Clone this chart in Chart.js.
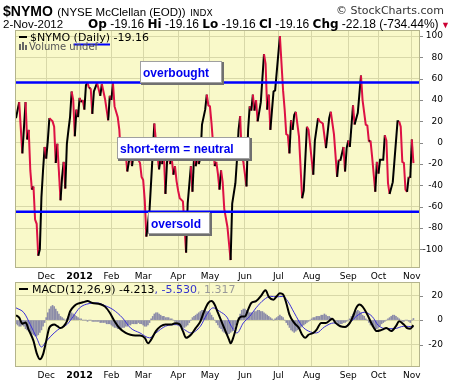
<!DOCTYPE html>
<html><head><meta charset="utf-8">
<script src="https://cdn.jsdelivr.net/npm/chart.js@4"></script>
<style>
html,body{margin:0;padding:0;background:#fff;}
#wrap{position:relative;width:460px;height:383px;overflow:hidden;font-family:"Liberation Sans",Arial,sans-serif;color:#000;}
.cv{position:absolute;left:0;top:0;width:460px;height:383px;z-index:1;}
.t{position:absolute;white-space:nowrap;line-height:1;z-index:5;}
</style></head><body>
<div id="wrap">
<div class="cv"><canvas id="c1" width="460" height="383"></canvas></div>
<div class="cv"><canvas id="c2" width="460" height="383"></canvas></div>
<div class="t" style="left:3px;top:3px;"><b style="font-size:14px">$NYMO</b> <span style="font-size:11.5px">(NYSE McClellan (EOD))</span> <span style="font-size:9px;font-family:'DejaVu Sans'">INDX</span></div>
<div class="t" style="left:336px;top:5px;font-family:'DejaVu Sans';font-size:11px;color:#333333">© StockCharts.com</div>
<div class="t" style="left:3px;top:19px;font-size:11.5px">2-Nov-2012</div>
<div class="t" style="left:88px;top:18px;font-size:12px"><b style="font-family:'DejaVu Sans';font-size:12px">Op</b> -19.16 <b style="font-family:'DejaVu Sans';font-size:12px">Hi</b> -19.16 <b style="font-family:'DejaVu Sans';font-size:12px">Lo</b> -19.16 <b style="font-family:'DejaVu Sans';font-size:12px">Cl</b> -19.16 <b style="font-family:'DejaVu Sans';font-size:12px">Chg</b> -22.18 (-734.44%)<span style="color:#cc0033;font-size:9px"> ▼</span></div>
</div>
<script>
// ---------- data ----------
const monthIdx = [19, 40, 60, 80, 102, 122, 144, 165, 186, 209, 228, 249];
const monthLabels = ['Dec', '2012', 'Feb', 'Mar', 'Apr', 'May', 'Jun', 'Jul', 'Aug', 'Sep', 'Oct', 'Nov'];
const nymoTicks = [-100, -80, -60, -40, -20, 0, 20, 40, 60, 80, 100];
const macdTicks = [-20, 0, 20];

// trading-day index (0 = 3-Nov-2011) and $NYMO value
const nymoDays = [
  0,2,4,6,7,8,9,10,11,12, 13,14,15,16,17,18,19,20,21,23, 24,25,26,28,29,30,31,32,33,34,
  35,36,37,38,39,40,41,42,43,44, 45,46,47,48,49,51,52,53,54,56, 58,59,60,61,62,64,65,66,67,68,
  69,70,71,72,73,74,76,78,79,80, 81,82,84,86,87,88,89,90,91,92, 93,94,95,96,97,98,99,100,101,102,
  103,105,107,108,110,111,112,113,114,115, 116,117,119,120,121,122,123,125,126,127,
  128,129,130,131,133,135,136,138,139,140, 141,142,143,145,146,147,148,149,150,151,
  152,154,156,157,158,159,160,161,162,163, 166,168,169,170,171,172,173,174,175,176,
  178,180,181,183,184,187,188,190,191,193, 195,197,198,200,202,203,204,206,207,208,
  209,210,212,213,215,217,218,220,221,222, 223,224,226,227,228,229,231,232,233,234,
  235,237,238,240,241,242,243,244,245,246, 247,248,249,250];
const nymoVals = [
  23,38,-10,38,3,12,-26,-44,-41,-72, -76,-106,-100,-51,-26,-4,-15,2,23,20, 15,-19,-1,-54,-32,-18,-43,-1,12,24,
  48,40,6,31,24,42,38,40,31,54, 56,51,51,27,48,56,50,44,55,41, 21,44,40,56,34,24,12,-15,-7,-16,
  -10,-27,-18,-10,-22,-10,-13,-19,-32,-35, -54,-88,-63,-10,18,2,-12,-25,-14,-20, -10,-48,-18,-12,-20,-15,-30,-22,-36,-45,
  -52,-55,-103,-57,-22,-46,-13,-22,-15,-20, -14,17,31,45,35,34,18,-22,-18,-29,
  -44,-26,-37,-62,-79,-110,-57,-38,-16,12, 25,-13,-18,-41,12,34,30,45,30,40,
  20,38,83,74,31,45,12,30,48,49, 100,49,31,8,7,-10,21,12,26,29,
  6,-52,-45,15,12,-30,2,23,20,18, -5,23,29,8,-32,-16,-17,-4,-27,-5,
  2,-4,35,17,28,63,40,17,16,1, 2,-13,-46,-18,-29,-16,-16,7,2,-38,
  -48,-37,-18,20,20,15,-18,-19,-44,-46, -32,-33,3,-19.16];
const overboughtLevel = 56.5;
const oversoldLevel = -64.6;

const macdDays = [0,2,4,6,8,11,13,15,17,19,21,24,26,28,30,32,34,37,39,42,45,48,53,56,59,62,65,69,72,75,78,81,83,85,88,91,94,98,100,103,105,107,110,113,116,118,121,123,125,127,130,134,135,137,140,142,144,146,148,151,154,156,157,159,162,164,166,168,170,172,175,178,180,182,184,187,189,192,195,199,201,204,207,210,212,214,216,218,221,224,227,230,233,236,239,241,244,246,248,250];
const macdVals = [4,2,-3,-2,-8,-17,-27,-32,-28,-17,-6,-3.5,-5,-6.5,-5,-1,7,12,13.5,14.5,15.5,14,13,11,6,-1,-6.5,-10.5,-12,-12.5,-12.5,-14.5,-19,-16,-9,-5,-3.5,-3.5,-2.5,-3.5,-9,-14.5,-12,-6.5,-1,6,14,15.5,12.5,6,-3.5,-16,-19,-13,0.5,3,3,8.5,14,15.5,19.5,23.5,24.3,19,16.7,19.5,22,21,14,4.5,-2.3,-6.5,-12,-14.5,-12,-10.5,-8,-2.3,-2.3,1,-2.3,-5,-5.6,-2.3,3,10,12.7,11,4.5,-3.7,-9,-8,-6.5,-9,-5,-1,-3.7,-6.5,-7,-4.213];
const sigDays = [0,5,9,13,16,19,24,28,32,36,40,46,51,56,61,67,72,78,84,88,94,101,106,110,116,120,124,128,133,135,139,143,147,151,156,160,164,168,171,175,180,184,189,194,200,206,210,214,219,224,228,233,238,244,250];
const sigVals = [10,6,-3.7,-14.5,-22,-17.3,-10.5,-6.4,-3.7,3,10,13.5,14,11.8,8.6,1.8,-6.4,-10.5,-14.5,-10.5,-5,-3.7,-7.8,-10.5,-5,4.5,10,7.2,1.8,-4,-10.5,-2.3,3,10,16.7,19.4,19,19.4,15.3,6,-5,-9,-10.5,-5.6,-2.3,-5.6,-2.3,3,6.4,3,-4.5,-7,-7,-5,-5.53];
// daily histogram, day 0 .. 250
const histVals = [
  -3,-4,-5,-5,-4,-5, -7,-8,-9,-10,-11,-12,-13,-13, -12,-10,-8,-5,-2, 2,6,9,11,12,11, 9,7,5,3,2,1,
  0,1,3,5,6,5,4, 3,2,1,1,0,0,0,-1,0,0,-1,-1,-1, -1,-1,-2,-2,-2,-2,-3,-3,-3,-4,
  -5,-6,-6,-7,-7,-7,-6,-6,-5,-5, -4,-4,-3,-3,-3,-3,-2,-3,-3,-4, -5,-5,-4,-2,
  1,3,5,6,6,5,4,3, 3,2,2,2,1,1,0, -1,-2,-3,-4,-5,-6,-6,-5,-4, -2,0,2,
  3,4,5,6,7,8,8,8,7,7,6,4,2, 0,-2,-4,-6,-7,-9,-10,-11,-12,-11, -10,-9,-7,-4,-1,2,
  5,8,9,9,8,7,6,6, 6,7,7,8,8,7,7,6,5,4, 3,2,1,0,1, 2,3,4,3,2,
  0,-2,-4,-6,-8,-9,-10,-9,-8,-7,-6,-5, -4,-3,-2,-1,0, 1,2,2,3,3,3, 4,4,5,4,3,3,
  2,1,0,-1,-2,-3, -3,-3,-2,-2,-1,0,1, 3,5,6,7,8,7,6,4, 3,1,0,-2,
  -4,-5,-6,-7,-7,-6,-5,-3, -2,-1,0,1,2,3,4,4,3,2, 1,0,-1,-1,0,0,-1,-2,0,1.317];

// ---------- styles ----------
const X_MIN = 0, X_MAX = 253.5;
const BG = '#f9f9c9', GRID = '#d8d8a8', FRAME = '#b4b48c';
const UP = '#000000', DOWN = '#dd1144';
const TICKFONT = {family: 'DejaVu Sans', size: 9};

const panelBg = {
  id: 'panelBg',
  beforeDraw(chart) {
    const a = chart.chartArea, c = chart.ctx;
    c.save(); c.fillStyle = BG; c.fillRect(a.left, a.top, a.right - a.left, a.bottom - a.top); c.restore();
  },
  afterDraw(chart) {
    const a = chart.chartArea, c = chart.ctx;
    c.save(); c.strokeStyle = FRAME; c.lineWidth = 1;
    c.strokeRect(a.left - 0.5, a.top - 0.5, a.right - a.left + 1, a.bottom - a.top + 1);
    const ys = chart.scales.y;
    c.strokeStyle = '#888';
    ys.ticks.forEach(t => { const y = Math.round(ys.getPixelForValue(t.value)) + 0.5; c.beginPath(); c.moveTo(a.right + 1, y); c.lineTo(a.right + 4, y); c.stroke(); });
    c.restore();
  }
};

function xScale(height) {
  return {
    type: 'linear', min: X_MIN, max: X_MAX, offset: false,
    afterBuildTicks: s => { s.ticks = monthIdx.map(v => ({value: v})); },
    afterFit: s => { s.height = height; },
    ticks: {
      autoSkip: false, maxRotation: 0, padding: 4, color: '#000',
      callback: v => monthLabels[monthIdx.indexOf(v)],
      font: ctx => (ctx.tick && monthLabels[monthIdx.indexOf(ctx.tick.value)] === '2012')
        ? {family: 'DejaVu Sans', size: 9.5, weight: 'bold'} : TICKFONT
    },
    grid: {color: GRID, drawTicks: false, offset: false},
    border: {display: false}
  };
}
function yScale(min, max, ticks) {
  return {
    position: 'right', min: min, max: max,
    afterBuildTicks: s => { s.ticks = ticks.map(v => ({value: v})); },
    afterFit: s => { s.width = 24; },
    ticks: {crossAlign: 'far', padding: 0, color: '#000', font: TICKFONT},
    grid: {color: GRID, drawTicks: false},
    border: {display: false}
  };
}

// ---------- main panel ----------
const annotations = [
  {text: 'overbought', day: 78, val: 76.9, w: 82},
  {text: 'short-term = neutral', day: 63.8, val: 5.6, w: 133},
  {text: 'oversold', day: 83.3, val: -65.3, w: 62}
];
const mainDecor = {
  id: 'mainDecor',
  afterDraw(chart) {
    const c = chart.ctx, a = chart.chartArea, xs = chart.scales.x, ys = chart.scales.y;
    c.save();
    c.fillStyle = '#000'; c.fillRect(a.left + 3, a.top + 5, 8, 2);
    c.font = '11px "DejaVu Sans"'; c.textBaseline = 'alphabetic';
    const txt = '$NYMO (Daily) -19.16';
    c.fillText(txt, a.left + 14, a.top + 9.5);
    const pre = c.measureText('$NYMO ').width, dw = c.measureText('(Daily)').width;
    c.fillStyle = '#0000ff'; c.fillRect(a.left + 14 + pre, a.top + 12.5, dw, 2);
    c.fillStyle = '#666';
    c.fillRect(a.left + 3, a.top + 13, 2, 6); c.fillRect(a.left + 6, a.top + 11, 2, 8); c.fillRect(a.left + 9, a.top + 14, 2, 5);
    c.font = '10px "DejaVu Sans"'; c.fillStyle = '#555';
    c.fillText('Volume undef', a.left + 13, a.top + 18.5);
    c.font = 'bold 12px "Liberation Sans"';
    annotations.forEach(n => {
      const x = Math.round(xs.getPixelForValue(n.day)), y = Math.round(ys.getPixelForValue(n.val));
      const h = 22;
      c.fillStyle = '#fff'; c.fillRect(x, y, n.w, h);
      c.strokeStyle = '#a0a0a0'; c.lineWidth = 1; c.strokeRect(x + 0.5, y + 0.5, n.w - 1, h - 1);
      c.fillStyle = '#707070'; c.fillRect(x + n.w, y + 1, 2, h + 1); c.fillRect(x + 1, y + h, n.w, 2);
      c.fillStyle = '#0000ee'; c.fillText(n.text, x + 3, y + 16);
    });
    c.restore();
  }
};

new Chart(document.getElementById('c1'), {
  type: 'line',
  data: {
    datasets: [
      {data: [{x: X_MIN, y: overboughtLevel}, {x: X_MAX, y: overboughtLevel}], borderColor: '#0000ff', borderWidth: 2.5, pointRadius: 0, order: 0},
      {data: [{x: X_MIN, y: oversoldLevel}, {x: X_MAX, y: oversoldLevel}], borderColor: '#0000ff', borderWidth: 2.5, pointRadius: 0, order: 0},
      {data: nymoDays.map((d, i) => ({x: d, y: nymoVals[i]})), borderWidth: 2, pointRadius: 0, tension: 0, order: 1,
       borderColor: UP,
       segment: {borderColor: s => s.p1.parsed.y >= s.p0.parsed.y ? UP : DOWN}}
    ]
  },
  options: {
    responsive: false, animation: false, devicePixelRatio: 1,
    layout: {padding: {left: 16, top: 31, right: 17, bottom: 93}},
    plugins: {legend: {display: false}, tooltip: {enabled: false}},
    scales: {x: xScale(23), y: yScale(-116.5, 104.7, nymoTicks)}
  },
  plugins: [panelBg, mainDecor]
});

// ---------- MACD panel ----------
const macdDecor = {
  id: 'macdDecor',
  afterDraw(chart) {
    const c = chart.ctx, a = chart.chartArea;
    c.save();
    c.fillStyle = '#000'; c.fillRect(a.left + 3, a.top + 5, 9, 2);
    c.font = '11px "DejaVu Sans"'; c.textBaseline = 'alphabetic';
    let x = a.left + 16; const y = a.top + 10;
    const parts = [['MACD(12,26,9) -4.213', '#000'], [', -5.530', '#3333cc'], [', 1.317', '#999']];
    parts.forEach(p => { c.fillStyle = p[1]; c.fillText(p[0], x, y); x += c.measureText(p[0]).width; });
    c.restore();
  }
};
new Chart(document.getElementById('c2'), {
  type: 'line',
  data: {
    datasets: [
      {type: 'line', data: macdDays.map((d, i) => ({x: d, y: macdVals[i]})), borderColor: '#000', borderWidth: 2, pointRadius: 0, tension: 0.4, cubicInterpolationMode: 'monotone', order: 1},
      {type: 'line', data: sigDays.map((d, i) => ({x: d, y: sigVals[i]})), borderColor: '#3a2fd8', borderWidth: 1, pointRadius: 0, tension: 0.4, cubicInterpolationMode: 'monotone', order: 2},
      {type: 'bar', data: histVals.map((v, i) => ({x: i, y: v})), backgroundColor: '#8c8ca8', borderWidth: 0, barThickness: 1, order: 3}
    ]
  },
  options: {
    responsive: false, animation: false, devicePixelRatio: 1,
    layout: {padding: {left: 16, top: 283, right: 17, bottom: 0}},
    plugins: {legend: {display: false}, tooltip: {enabled: false}},
    scales: {x: xScale(17), y: yScale(-37.5, 30.3, macdTicks)}
  },
  plugins: [panelBg, macdDecor]
});
</script>
</body></html>
